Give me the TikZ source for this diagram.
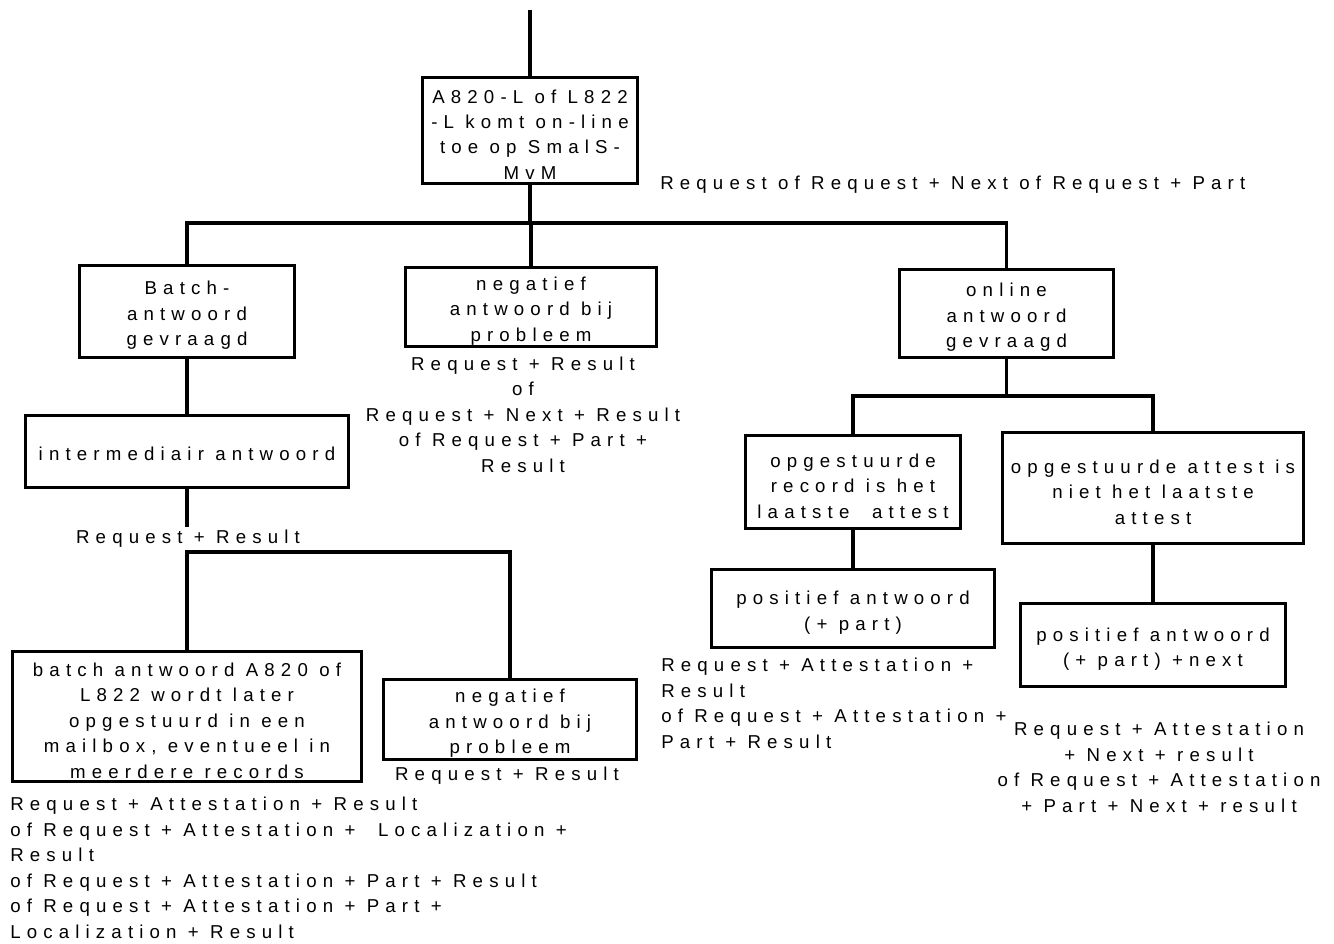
\documentclass[tikz,border=0pt]{standalone}
\usepackage{fontspec}
\newfontfamily\lsp{Liberation Sans}[LetterSpace=33]
\tikzset{
  txt/.style={font=\lsp\fontsize{14}{19.1}\selectfont, inner sep=0pt},
  box/.style={draw, line width=2.5pt, inner sep=0pt},
  boxtext/.style={txt, align=center, yshift=-3pt},
  conn/.style={line width=2.5pt},
}
\begin{document}
\begin{tikzpicture}[x=0.75pt,y=-0.75pt]
\fill[white] (0,0) rectangle (1334,944);
\useasboundingbox (0,0) rectangle (1334,944);
% boxes
\node[box, minimum width=161pt, minimum height=79.25pt, label={[boxtext]center:{A820-L of L822\\-L komt on-line\\toe op SmalS-\\MvM}}] (A) at (530,130.5) {};
\node[box, minimum width=161pt, minimum height=68.75pt, label={[boxtext]center:{Batch-\\antwoord\\gevraagd}}] (B) at (187,311.5) {};
\node[box, minimum width=188pt, minimum height=59pt, label={[boxtext]center:{negatief\\antwoord bij\\probleem}}] (N) at (531,307) {};
\node[box, minimum width=160.25pt, minimum height=65.75pt, label={[boxtext]center:{online\\antwoord\\gevraagd}}] (O) at (1006.5,313.5) {};
\node[box, minimum width=242pt, minimum height=53.75pt, label={[boxtext,yshift=1.5pt]center:{intermediair antwoord}}] (I) at (187,451.5) {};
\node[box, minimum width=161pt, minimum height=69.5pt, label={[boxtext]center:{opgestuurde\\record is het\\laatste~ attest}}] (SL) at (853,482) {};
\node[box, minimum width=225.5pt, minimum height=83pt, label={[boxtext]center:{opgestuurde attest is\\niet het laatste\\attest}}] (SR) at (1153,488) {};
\node[box, minimum width=212pt, minimum height=58.25pt, label={[boxtext]center:{positief antwoord\\(+ part)}}] (P1) at (853,608.5) {};
\node[box, minimum width=198.5pt, minimum height=62pt, label={[boxtext]center:{positief antwoord\\(+ part) +next}}] (P2) at (1153,645) {};
\node[box, minimum width=261.5pt, minimum height=97.25pt, label={[boxtext]center:{batch antwoord A820 of\\L822 wordt later\\opgestuurd in een\\mailbox, eventueel in\\meerdere records}}] (BA) at (187,716.5) {};
\node[box, minimum width=189.5pt, minimum height=59.75pt, label={[boxtext]center:{negatief\\antwoord bij\\probleem}}] (N2) at (510,719.5) {};
% labels (multi-line: base = baseline of last line)
\node[txt, anchor=base west] (Ltop) at (660,190) {Request of Request + Next of Request + Part};
\node[txt, align=center, anchor=base] (Lneg) at (523,472) {Request + Result\\of\\Request + Next + Result\\of Request + Part +\\Result};
\node[txt, anchor=base, inner sep=2pt] (L1) at (188,543) {Request + Result};
\node[txt, anchor=base] (Lneg2) at (507,780) {Request + Result};
\node[txt, align=left, anchor=base west] (Lba) at (10,938) {Request + Attestation + Result\\of Request + Attestation + ~Localization +\\Result\\of Request + Attestation + Part + Result\\of Request + Attestation + Part +\\Localization + Result};
\node[txt, align=left, anchor=base west] (Lp1) at (661,748) {Request + Attestation +\\Result\\of Request + Attestation +\\Part + Result};
\node[txt, align=center, anchor=base] (Lp2) at (1159,812) {Request + Attestation\\+ Next + result\\of Request + Attestation\\+ Part + Next + result};
% connectors
\coordinate (top) at (530,10);
\coordinate (h1) at (530,223);
\coordinate (h2) at (187,552);
\coordinate (h3) at (1006.5,396);
\draw[conn] (top) -- (A.north);
\draw[conn] (A.south) -- (h1);
\draw[conn] (B.north) -- (B.north |- h1) -| (O.north);
\draw[conn] (N.north) -- (N.north |- h1);
\draw[conn] (B.south) -- (I.north);
\draw[conn] (I.south) -- (I.south |- L1.north);
\draw[conn] (BA.north) -- (BA.north |- h2) -| (N2.north);
\draw[conn] (O.south) -- (h3);
\draw[conn] (SL.north) -- (SL.north |- h3) -| (SR.north);
\draw[conn] (SL.south) -- (P1.north);
\draw[conn] (SR.south) -- (P2.north);
\end{tikzpicture}
\end{document}
